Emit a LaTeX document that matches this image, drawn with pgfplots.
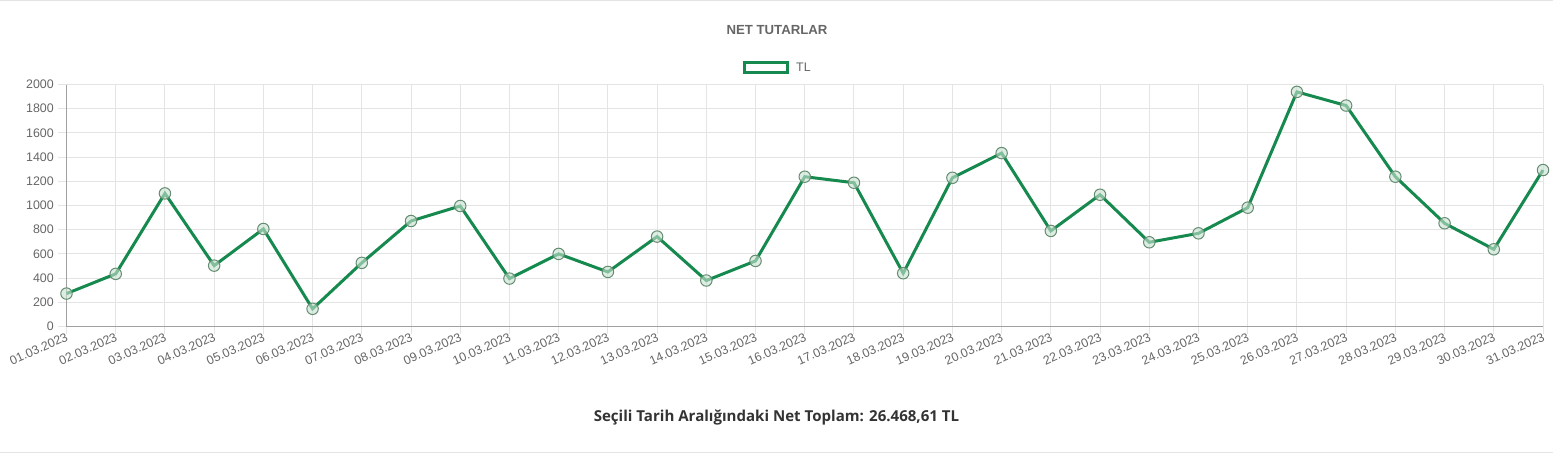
\documentclass[border=0pt]{standalone}
\usepackage{pgfplots}
\pgfplotsset{compat=1.18}
\usepackage{fontspec}
\setmainfont{Liberation Sans}
\newfontfamily\opensans{Open Sans}
\definecolor{linegreen}{RGB}{22,138,78}
\definecolor{txtgray}{RGB}{102,102,102}
\definecolor{gridgray}{RGB}{228,228,228}
\definecolor{axgray}{RGB}{160,160,160}
\definecolor{mfill}{RGB}{200,225,208}
\definecolor{mdraw}{RGB}{100,140,112}
\begin{document}
\begin{tikzpicture}[x=0.75pt,y=0.75pt]
\path[use as bounding box] (-66.5,-126.5) rectangle (1486.5,326.5);
\draw[gridgray,line width=0.75pt] (-66.5,326.2) -- (1486.5,326.2);
\draw[gridgray,line width=0.75pt] (-66.5,-126.2) -- (1486.5,-126.2);
\begin{axis}[
  at={(0,0)}, anchor=origin,
  scale only axis,
  width=1107.4pt, height=181.5pt,
  xmin=0, xmax=30, ymin=0, ymax=2000,
  xtick={0,...,30},
  xticklabels={01.03.2023,02.03.2023,03.03.2023,04.03.2023,05.03.2023,06.03.2023,07.03.2023,08.03.2023,09.03.2023,10.03.2023,11.03.2023,12.03.2023,13.03.2023,14.03.2023,15.03.2023,16.03.2023,17.03.2023,18.03.2023,19.03.2023,20.03.2023,21.03.2023,22.03.2023,23.03.2023,24.03.2023,25.03.2023,26.03.2023,27.03.2023,28.03.2023,29.03.2023,30.03.2023,31.03.2023},
  ytick={0,200,...,2000},
  grid=major,
  major grid style={gridgray, line width=0.75pt},
  axis line style={axgray, line width=0.75pt},
  axis x line*=bottom, axis y line*=left,
  tick style={gridgray, line width=0.75pt},
  tick align=outside, major tick length=6pt,
  tick label style={font=\fontsize{9.3}{10}\selectfont, text=txtgray},
  /pgf/number format/assume math mode=true,
  /pgf/number format/1000 sep={},
  xticklabel style={rotate=24, anchor=north east, inner sep=1pt, yshift=3pt, xshift=1pt},
  clip=false,
]
\addplot[color=linegreen, line width=2.25pt, mark=*, mark size=4.3pt,
  mark options={fill=mfill, draw=mdraw, line width=0.75pt, fill opacity=0.6}]
coordinates {
(0,272) (1,435) (2,1100) (3,503) (4,806) (5,146) (6,526) (7,872) (8,996) (9,396)
(10,600) (11,451) (12,743) (13,380) (14,542) (15,1238) (16,1188) (17,440) (18,1229) (19,1433)
(20,790) (21,1089) (22,696) (23,770) (24,982) (25,1939) (26,1826) (27,1238) (28,853) (29,638)
(30,1293)
};
\end{axis}
\node[font=\bfseries\fontsize{9.9}{11}\selectfont, text=txtgray] at (710.5,296.5) {NET TUTARLAR};
\draw[linegreen, line width=2.25pt, fill=white] (678,254) rectangle (721,264);
\node[font=\fontsize{9.3}{10}\selectfont, text=txtgray, anchor=west] at (725,259.5) {TL};
\node[font=\opensans\bfseries\fontsize{11.3}{13}\selectfont, text={rgb,255:red,51;green,51;blue,51}] at (710,-91.5) {Seçili Tarih Aralığındaki Net Toplam: 26.468,61 TL};
\end{tikzpicture}
\end{document}
